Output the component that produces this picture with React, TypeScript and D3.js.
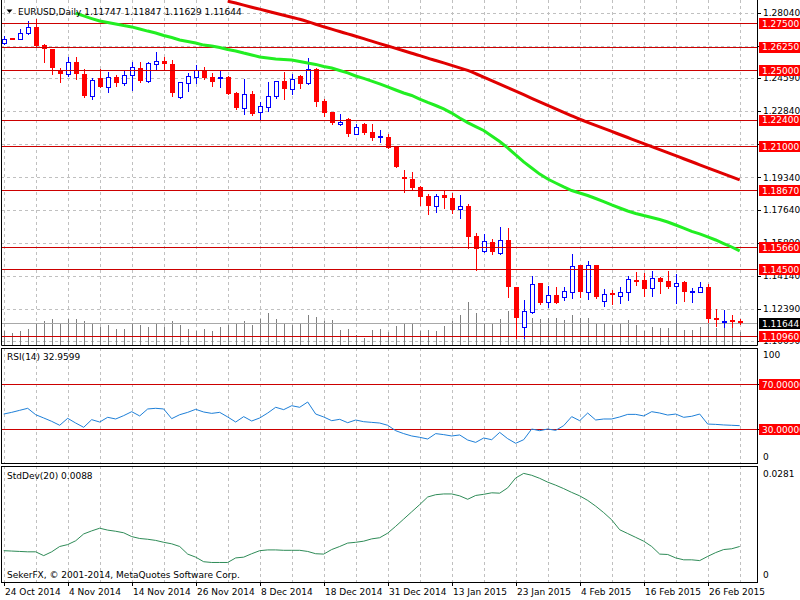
import React from 'react';
import * as d3 from 'd3';

// EURUSD daily bars (oldest -> newest)
const opens = [
  1.2643, 1.2670, 1.2667, 1.2695, 1.2730, 1.2634, 1.2611, 1.2502, 1.2479, 1.2542,
  1.2479, 1.2366, 1.2461, 1.2413, 1.2466, 1.2431, 1.2475, 1.2511, 1.2445, 1.2532,
  1.2549, 1.2532, 1.2361, 1.2434, 1.2466, 1.2502, 1.2466, 1.2458, 1.2466, 1.2382,
  1.2302, 1.2375, 1.2278, 1.2308, 1.2364, 1.2443, 1.2401, 1.2470, 1.2431, 1.2507,
  1.2338, 1.2278, 1.2215, 1.2241, 1.2164, 1.2217, 1.2176, 1.2148, 1.2149, 1.2096,
  1.1938, 1.1924, 1.1882, 1.1838, 1.1785, 1.1842, 1.1824, 1.1766, 1.1783, 1.1625,
  1.1546, 1.1595, 1.1537, 1.1604, 1.1357, 1.1143, 1.1225, 1.1375, 1.1278, 1.1314,
  1.1301, 1.1331, 1.1472, 1.1331, 1.1472, 1.1283, 1.1322, 1.1310, 1.1328, 1.1394,
  1.1393, 1.1349, 1.1403, 1.1387, 1.1361, 1.1384, 1.1328, 1.1331, 1.1357, 1.1194,
  1.1169, 1.1182, 1.11747,
];
const highs = [
  1.2683, 1.2672, 1.2716, 1.2759, 1.2771, 1.2637, 1.2612, 1.2511, 1.2572, 1.2569,
  1.2505, 1.2461, 1.2505, 1.2493, 1.2475, 1.2498, 1.2542, 1.2542, 1.2545, 1.2595,
  1.2569, 1.2554, 1.2440, 1.2487, 1.2528, 1.2519, 1.2484, 1.2502, 1.2471, 1.2384,
  1.2454, 1.2391, 1.2334, 1.2440, 1.2445, 1.2493, 1.2480, 1.2475, 1.2563, 1.2514,
  1.2348, 1.2281, 1.2268, 1.2246, 1.2215, 1.2220, 1.2215, 1.2185, 1.2162, 1.2097,
  1.1974, 1.1961, 1.1891, 1.1845, 1.1845, 1.1866, 1.1851, 1.1842, 1.1792, 1.1639,
  1.1634, 1.1609, 1.1674, 1.1667, 1.1358, 1.1287, 1.1414, 1.1376, 1.1361, 1.1354,
  1.1357, 1.1528, 1.1473, 1.1493, 1.1473, 1.1345, 1.1340, 1.1354, 1.1414, 1.1433,
  1.1428, 1.1440, 1.1407, 1.1440, 1.1424, 1.1387, 1.1352, 1.1381, 1.1370, 1.1238,
  1.1234, 1.1208, 1.11847,
];
const lows = [
  1.2637, 1.2665, 1.2664, 1.2690, 1.2625, 1.2542, 1.2480, 1.2437, 1.2471, 1.2452,
  1.2357, 1.2348, 1.2412, 1.2387, 1.2417, 1.2422, 1.2396, 1.2440, 1.2440, 1.2505,
  1.2502, 1.2366, 1.2355, 1.2392, 1.2434, 1.2454, 1.2419, 1.2413, 1.2373, 1.2298,
  1.2269, 1.2264, 1.2238, 1.2285, 1.2355, 1.2348, 1.2375, 1.2405, 1.2429, 1.2313,
  1.2260, 1.2215, 1.2211, 1.2155, 1.2162, 1.2162, 1.2132, 1.2120, 1.2088, 1.1990,
  1.1859, 1.1873, 1.1789, 1.1743, 1.1753, 1.1774, 1.1745, 1.1719, 1.1563, 1.1446,
  1.1542, 1.1532, 1.1530, 1.1305, 1.1085, 1.1085, 1.1220, 1.1266, 1.1252, 1.1270,
  1.1287, 1.1299, 1.1301, 1.1292, 1.1299, 1.1257, 1.1264, 1.1270, 1.1287, 1.1366,
  1.1310, 1.1310, 1.1322, 1.1349, 1.1270, 1.1283, 1.1278, 1.1328, 1.1173, 1.1151,
  1.1143, 1.1143, 1.11629,
];
const closes = [
  1.2665, 1.2667, 1.2695, 1.2730, 1.2630, 1.2611, 1.2514, 1.2479, 1.2542, 1.2479,
  1.2364, 1.2449, 1.2413, 1.2466, 1.2431, 1.2475, 1.2519, 1.2443, 1.2537, 1.2549,
  1.2532, 1.2379, 1.2437, 1.2470, 1.2502, 1.2461, 1.2440, 1.2463, 1.2375, 1.2299,
  1.2373, 1.2269, 1.2311, 1.2366, 1.2443, 1.2401, 1.2454, 1.2428, 1.2505, 1.2334,
  1.2276, 1.2220, 1.2229, 1.2162, 1.2202, 1.2170, 1.2141, 1.2151, 1.2091, 1.1991,
  1.1924, 1.1880, 1.1833, 1.1785, 1.1836, 1.1824, 1.1762, 1.1783, 1.1621, 1.1555,
  1.1599, 1.1539, 1.1604, 1.1354, 1.1194, 1.1231, 1.1370, 1.1273, 1.1314, 1.1273,
  1.1335, 1.1468, 1.1328, 1.1472, 1.1301, 1.1319, 1.1312, 1.1328, 1.1398, 1.1382,
  1.1344, 1.1402, 1.1384, 1.1357, 1.1377, 1.1328, 1.1335, 1.1354, 1.1185, 1.1182,
  1.1176, 1.1169, 1.11644,
];
// tick volume, thousands
const volumes = [
  70, 60, 70, 80, 110, 120, 130, 110, 130, 130, 120, 110, 90, 100, 80, 80, 110, 100, 90, 110,
  90, 120, 100, 80, 70, 80, 70, 90, 100, 110, 120, 100, 130, 160, 130, 110, 100, 110, 150, 140,
  120, 125, 75, 80, 50, 35, 75, 80, 65, 95, 110, 110, 70, 75, 70, 95, 120, 150, 215, 160,
  105, 110, 130, 170, 145, 150, 135, 130, 135, 135, 125, 150, 135, 135, 105, 105, 100, 105, 125, 100,
  70, 90, 85, 85, 125, 75, 75, 90, 105, 85, 95, 85, 65,
];
// moving averages, aligned to the last bar
const maFast = [
  1.2801, 1.2787, 1.2773, 1.2760, 1.2752, 1.2744, 1.2736, 1.2729, 1.2718, 1.2707,
  1.2697, 1.2684, 1.2673, 1.2660, 1.2652, 1.2644, 1.2633, 1.2628, 1.2620, 1.2610,
  1.2602, 1.2591, 1.2581, 1.2570, 1.2565, 1.2560, 1.2557, 1.2554, 1.2546, 1.2538,
  1.2531, 1.2520, 1.2512, 1.2499, 1.2486, 1.2470, 1.2457, 1.2443, 1.2428, 1.2412,
  1.2396, 1.2380, 1.2367, 1.2348, 1.2330, 1.2314, 1.2296, 1.2274, 1.2248, 1.2224,
  1.2203, 1.2182, 1.2153, 1.2124, 1.2090, 1.2053, 1.2016, 1.1984, 1.1952, 1.1926,
  1.1905, 1.1884, 1.1865, 1.1852, 1.1839, 1.1823, 1.1807, 1.1789, 1.1773, 1.1757,
  1.1744, 1.1733, 1.1723, 1.1712, 1.1699, 1.1683, 1.1667, 1.1649, 1.1636, 1.1620,
  1.1604, 1.1585, 1.1567, 1.1546,
];
const maSlow = [
  1.2865, 1.2855, 1.2844, 1.2833, 1.2823, 1.2812, 1.2801, 1.2791, 1.2780, 1.2770,
  1.2757, 1.2743, 1.2730, 1.2717, 1.2705, 1.2692, 1.2680, 1.2667, 1.2654, 1.2641,
  1.2628, 1.2616, 1.2603, 1.2590, 1.2578, 1.2564, 1.2552, 1.2539, 1.2526, 1.2513,
  1.2500, 1.2482, 1.2464, 1.2445, 1.2427, 1.2408, 1.2390, 1.2371, 1.2352, 1.2334,
  1.2315, 1.2297, 1.2278, 1.2260, 1.2241, 1.2225, 1.2209, 1.2193, 1.2177, 1.2161,
  1.2145, 1.2129, 1.2113, 1.2097, 1.2081, 1.2065, 1.2049, 1.2033, 1.2017, 1.2001,
  1.1985, 1.1969, 1.1953, 1.1937, 1.1921,
];
const rsi = [
  43.3, 44.8, 46.6, 48.4, 42.7, 39.8, 36.8, 33.3, 39.5, 35.3,
  31.5, 38.3, 36.2, 40.4, 38.9, 41.9, 45.4, 41.6, 47.8, 48.4,
  47.8, 39.2, 42.7, 44.8, 47.5, 45.1, 43.9, 44.8, 40.7, 36.2,
  41.0, 37.1, 39.8, 44.2, 49.3, 47.2, 50.7, 49.3, 54.0, 43.3,
  40.7, 37.4, 38.6, 35.6, 38.0, 36.5, 35.9, 35.3, 33.3, 28.5,
  25.9, 23.8, 22.6, 21.1, 25.9, 25.0, 23.8, 24.7, 20.2, 18.1,
  22.0, 20.5, 27.0, 21.4, 17.3, 20.5, 30.0, 28.5, 30.0, 28.8,
  33.0, 41.0, 37.4, 44.2, 38.0, 38.9, 38.9, 40.7, 43.0, 43.0,
  41.6, 45.4, 44.2, 42.4, 43.3, 40.4, 41.3, 43.3, 34.4, 34.1,
  33.6, 33.3, 32.9599,
];
const stdDev = [
  0.0077, 0.0076, 0.0075, 0.0074, 0.0074, 0.0064, 0.0074, 0.0088, 0.0093, 0.0103,
  0.0121, 0.0129, 0.0136, 0.0131, 0.0128, 0.0124, 0.0114, 0.0109, 0.0107, 0.0104,
  0.0099, 0.0095, 0.0088, 0.0068, 0.0060, 0.0048, 0.0046, 0.0046, 0.0046, 0.0058,
  0.0060, 0.0069, 0.0077, 0.0079, 0.0079, 0.0078, 0.0078, 0.0078, 0.0075, 0.0069,
  0.0068, 0.0080, 0.0088, 0.0097, 0.0099, 0.0102, 0.0108, 0.0111, 0.0123, 0.0141,
  0.0160, 0.0179, 0.0198, 0.0218, 0.0224, 0.0226, 0.0226, 0.0221, 0.0212, 0.0222,
  0.0225, 0.0229, 0.0228, 0.0242, 0.0268, 0.0280, 0.0275, 0.0267, 0.0257, 0.0249,
  0.0240, 0.0230, 0.0221, 0.0209, 0.0194, 0.0177, 0.0158, 0.0132, 0.0122, 0.0112,
  0.0102, 0.0088, 0.0068, 0.0067, 0.0058, 0.0053, 0.0053, 0.0051, 0.0062, 0.0072,
  0.0080, 0.0082, 0.0088,
];

const dateLabels = [
  '24 Oct 2014', '4 Nov 2014', '14 Nov 2014', '26 Nov 2014', '8 Dec 2014', '18 Dec 2014',
  '31 Dec 2014', '13 Jan 2015', '23 Jan 2015', '4 Feb 2015', '16 Feb 2015', '26 Feb 2015',
];
const priceTicks = [1.2804, 1.2629, 1.2459, 1.2284, 1.2109, 1.1934, 1.1764, 1.1589, 1.1414, 1.1239, 1.1069];
// tick labels fully covered by a level box in the picture
const hiddenTicks = [1.2629, 1.2109];
const levels = [1.275, 1.2625, 1.25, 1.224, 1.21, 1.1867, 1.1566, 1.145, 1.1096];
const rsiLevels = [70, 30];

const FONT = "'DejaVu Sans', sans-serif";
const N = closes.length;
const L = 1, R = 757;
const main = { top: 0, bottom: 345 };
const rsiP = { top: 348, bottom: 463 };
const sdP = { top: 466, bottom: 582 };

export default function App() {
  const x = d3.scaleLinear().domain([0, N - 1]).range([3.7, 739.7]);
  const yP = d3.scaleLinear().domain([1.10495, 1.28711]).range([main.bottom, main.top]);
  const yV = d3.scaleLinear().domain([0, 250]).range([main.bottom, main.bottom - 50]);
  const yR = d3.scaleLinear().domain([0, 100]).range([462.75, 350.25]);
  const yS = d3.scaleLinear().domain([0, 0.0281]).range([580, 473]);

  const px = (i: number) => Math.round(x(i));
  const maPath = (arr: number[], curve: d3.CurveFactory) => {
    const off = N - arr.length;
    return d3.line<number>().x((_, i) => x(i + off)).y(d => yP(d)).curve(curve)(arr) || '';
  };
  const rsiPath = d3.line<number>().x((_, i) => x(i)).y(d => yR(d))(rsi) || '';
  const sdPath = d3.line<number>().x((_, i) => x(i)).y(d => yS(d))(stdDev) || '';

  const gridX = d3.range(0, N, 4);
  const labelIdx = dateLabels.map((_, i) => i * 8);
  const last = closes[N - 1];
  const hy = (v: number) => Math.round(v) + 0.5;

  const vgrid = (p: { top: number; bottom: number }) =>
    gridX.map(i => (
      <line key={i} x1={px(i) + 0.5} x2={px(i) + 0.5} y1={p.top} y2={p.bottom}
        stroke="#c0c0c0" strokeDasharray="3,3" />
    ));

  return (
    <svg width={800} height={600} style={{ position: 'fixed', left: 0, top: 0, background: '#fff' }}
      fontFamily={FONT} fontSize={9}>
      <defs>
        <clipPath id="cm"><rect x={L} y={main.top} width={R - L} height={main.bottom - main.top} /></clipPath>
        <clipPath id="cr"><rect x={L} y={rsiP.top} width={R - L} height={rsiP.bottom - rsiP.top} /></clipPath>
        <clipPath id="cs"><rect x={L} y={sdP.top} width={R - L} height={sdP.bottom - sdP.top} /></clipPath>
      </defs>
      <rect width={800} height={600} fill="#fff" />

      {/* main panel */}
      <g clipPath="url(#cm)">
        {vgrid(main)}
        {priceTicks.map(t => (
          <line key={t} x1={L} x2={R} y1={hy(yP(t))} y2={hy(yP(t))} stroke="#c0c0c0" strokeDasharray="3,3" />
        ))}
        {volumes.map((v, i) => (
          <line key={i} x1={px(i) + 0.5} x2={px(i) + 0.5} y1={main.bottom} y2={yV(v)} stroke="#808080" />
        ))}
        <line x1={L} x2={R} y1={hy(yP(last))} y2={hy(yP(last))} stroke="#a8a8a8" />
        {closes.map((c, i) => {
          const o = opens[i];
          const up = c >= o;
          const col = up ? '#0000ff' : '#ff0000';
          const cx = px(i);
          const yt = Math.round(yP(Math.max(o, c)));
          const yb = Math.round(yP(Math.min(o, c)));
          return (
            <g key={i}>
              <line x1={cx + 0.5} x2={cx + 0.5} y1={Math.round(yP(highs[i]))} y2={Math.round(yP(lows[i])) + 1} stroke={col} />
              {up ? (
                <rect x={cx - 1.5} y={yt + 0.5} width={4} height={Math.max(yb - yt, 1)} fill="#fff" stroke={col} />
              ) : (
                <rect x={cx - 2} y={yt} width={5} height={Math.max(yb - yt, 2)} fill={col} />
              )}
            </g>
          );
        })}
        {levels.map(l => (
          <line key={l} x1={L} x2={R} y1={hy(yP(l))} y2={hy(yP(l))} stroke="#cc0000" />
        ))}
        <path d={maPath(maFast, d3.curveLinear)} fill="none" stroke="#22ee22" strokeWidth={3} />
        <path d={maPath(maSlow, d3.curveBasis)} fill="none" stroke="#e00000" strokeWidth={3} />
      </g>

      {/* RSI panel */}
      <g clipPath="url(#cr)">
        {vgrid(rsiP)}
        {rsiLevels.map(l => (
          <line key={l} x1={L} x2={R} y1={hy(yR(l))} y2={hy(yR(l))} stroke="#cc0000" />
        ))}
        <path d={rsiPath} fill="none" stroke="#1e7fd8" strokeWidth={1} />
      </g>

      {/* StdDev panel */}
      <g clipPath="url(#cs)">
        {vgrid(sdP)}
        <path d={sdPath} fill="none" stroke="#2e8b57" strokeWidth={1} />
      </g>

      {/* borders */}
      <path d={`M${L + 0.5},${main.top}V${main.bottom + 0.5}H${R + 0.5}V${main.top}`} fill="none" stroke="#000" />
      {[rsiP, sdP].map((p, i) => (
        <rect key={i} x={L + 0.5} y={p.top + 0.5} width={R - L} height={p.bottom - p.top} fill="none" stroke="#000" />
      ))}

      {/* price axis */}
      {priceTicks.map(t => (
        <g key={t}>
          <line x1={R} x2={R + 4} y1={hy(yP(t))} y2={hy(yP(t))} stroke="#000" />
          {hiddenTicks.includes(t) ? null : (
            <text x={763} y={yP(t)} dy="0.35em" fill="#000">{t.toFixed(5)}</text>
          )}
        </g>
      ))}
      {levels.map(l => (
        <g key={l}>
          <rect x={759} y={Math.round(yP(l)) - 5} width={41} height={11} fill="#ff0000" />
          <text x={762} y={yP(l) + 0.5} dy="0.35em" fill="#fff">{l.toFixed(5)}</text>
        </g>
      ))}
      <rect x={759} y={Math.round(yP(last)) - 5} width={41} height={11} fill="#000" />
      <text x={762} y={yP(last) + 0.5} dy="0.35em" fill="#fff">{last.toFixed(5)}</text>

      {/* RSI axis */}
      <text x={763} y={355} dy="0.35em">100</text>
      <text x={763} y={457} dy="0.35em">0</text>
      {rsiLevels.map(l => (
        <g key={l}>
          <line x1={R} x2={R + 4} y1={hy(yR(l))} y2={hy(yR(l))} stroke="#000" />
          <rect x={759} y={Math.round(yR(l)) - 5} width={41} height={11} fill="#ff0000" />
          <text x={762} y={yR(l) + 0.5} dy="0.35em" fill="#fff">{l.toFixed(5)}</text>
        </g>
      ))}

      {/* StdDev axis */}
      <text x={763} y={474} dy="0.35em">0.0281</text>
      <text x={763} y={575} dy="0.35em">0</text>

      {/* time axis */}
      {labelIdx.map((idx, i) => (
        <g key={i}>
          <line x1={px(idx) + 0.5} x2={px(idx) + 0.5} y1={sdP.bottom} y2={sdP.bottom + 4} stroke="#000" />
          <text x={px(idx) + 1} y={595}>{dateLabels[i]}</text>
        </g>
      ))}

      {/* captions */}
      <path d="M6.5,9.5 L12.5,9.5 L9.5,13 Z" fill="#000" />
      <text x={18} y={14.5}>EURUSD,Daily  {opens[N - 1].toFixed(5)} {highs[N - 1].toFixed(5)} {lows[N - 1].toFixed(5)} {closes[N - 1].toFixed(5)}</text>
      <text x={7} y={360}>RSI(14) {rsi[N - 1].toFixed(4)}</text>
      <text x={7} y={479}>StdDev(20) {stdDev[N - 1].toFixed(4)}</text>
      <text x={7} y={578}>SekerFX, © 2001-2014, MetaQuotes Software Corp.</text>
    </svg>
  );
}
